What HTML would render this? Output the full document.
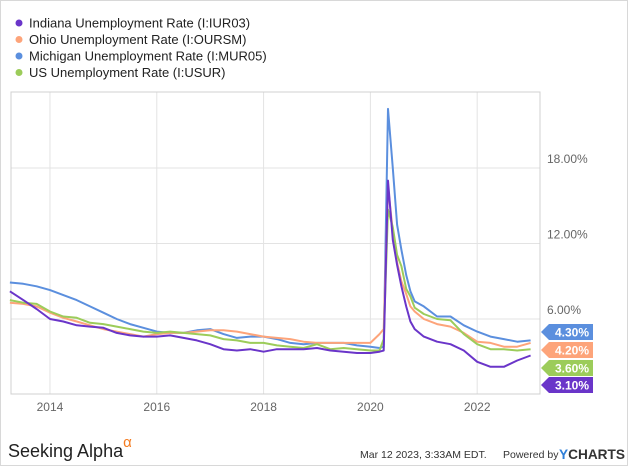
<!DOCTYPE html>
<html><head><meta charset="utf-8"><style>
body{margin:0;background:#fff;font-family:"Liberation Sans",sans-serif}
svg text{font-family:"Liberation Sans",sans-serif}
</style></head><body>
<svg width="635" height="467" viewBox="0 0 635 467">
<rect x="0.5" y="0.5" width="627" height="465" fill="#fff" stroke="#d8d8d8"/>
<g id="legend"></g>
<g id="grid"></g>
<rect x="11" y="92" width="529" height="302" fill="none" stroke="#d0d0d0"/>
<g id="series"></g>
<g id="tags"></g>
<text x="8" y="457" font-size="18" fill="#222">Seeking Alpha<tspan font-size="15" fill="#f47b20" dy="-10">α</tspan></text>
<text x="360" y="458" font-size="10.5" fill="#333">Mar 12 2023, 3:33AM EDT.</text>
<text x="503" y="458" font-size="10.5" fill="#333">Powered by</text>
<text x="559" y="459" font-size="14" font-weight="bold" fill="#333" textLength="66" lengthAdjust="spacingAndGlyphs"><tspan fill="#2f7fd8">Y</tspan>CHARTS</text>
</svg>
<script>
const seriesNames=["Indiana Unemployment Rate (I:IUR03)","Ohio Unemployment Rate (I:OURSM)","Michigan Unemployment Rate (I:MUR05)","US Unemployment Rate (I:USUR)"];
const seriesColors=["#6a35c9","#fda47a","#5b8fde","#9ccc5a"];
const dates=[2013.25,2013.5,2013.75,2014,2014.25,2014.5,2014.75,2015,2015.25,2015.5,2015.75,2016,2016.25,2016.5,2016.75,2017,2017.25,2017.5,2017.75,2018,2018.25,2018.5,2018.75,2019,2019.25,2019.5,2019.75,2020,2020.17,2020.25,2020.33,2020.42,2020.5,2020.58,2020.67,2020.75,2020.83,2021,2021.25,2021.5,2021.75,2022,2022.25,2022.5,2022.75,2023];
const indiana=[8.2,7.5,6.8,6.0,5.8,5.5,5.4,5.3,4.9,4.7,4.6,4.6,4.7,4.5,4.3,4.0,3.6,3.5,3.6,3.4,3.6,3.6,3.6,3.7,3.5,3.4,3.3,3.3,3.4,3.5,17.0,12.3,10.3,8.6,7.0,5.8,5.2,4.6,4.2,4.0,3.5,2.6,2.2,2.2,2.7,3.1];
const ohio=[7.3,7.2,7.0,6.5,6.1,5.8,5.5,5.2,5.0,4.8,4.6,4.8,4.9,4.9,5.0,5.1,5.1,5.0,4.8,4.6,4.5,4.4,4.2,4.1,4.1,4.1,4.1,4.1,4.8,5.2,16.5,13.0,10.5,9.0,8.0,7.0,6.6,6.0,5.6,5.4,4.9,4.2,4.1,3.8,3.8,4.1];
const michigan=[8.9,8.8,8.6,8.3,7.9,7.5,7.0,6.5,6.0,5.6,5.3,5.0,4.9,4.9,5.1,5.2,4.8,4.5,4.6,4.6,4.4,4.1,4.0,4.1,4.1,4.1,3.9,3.8,3.7,3.8,22.7,18.0,13.5,11.5,9.5,8.2,7.4,7.0,6.2,6.2,5.5,5.0,4.6,4.4,4.2,4.3];
const us=[7.5,7.3,7.2,6.6,6.2,6.1,5.7,5.6,5.4,5.2,5.0,4.9,5.0,4.9,4.8,4.7,4.4,4.3,4.1,4.1,3.9,3.8,3.7,4.0,3.6,3.7,3.6,3.5,3.5,4.4,14.7,13.3,11.1,10.2,8.4,7.8,6.9,6.4,6.0,5.9,4.8,4.0,3.6,3.6,3.5,3.6];
const xTicks=[2014,2016,2018,2020,2022];
const yTicks=[6,12,18];
const lastLabels=["3.10%","4.20%","4.30%","3.60%"];
const tagCenters=[385,350,332,368];

const NS="http://www.w3.org/2000/svg";
function X(t){return 11+(t-2013.27)*53.4;}
function Y(v){return 394.5-v*12.58;}
function mk(tag,attrs,parent){const e=document.createElementNS(NS,tag);for(const k in attrs)e.setAttribute(k,attrs[k]);parent.appendChild(e);return e;}
const grid=document.getElementById('grid');
xTicks.forEach(t=>{
  const l=mk('line',{x1:X(t),x2:X(t),y1:92,y2:394,stroke:'#e3e3e3'},grid);
  
  
  const tx=mk('text',{x:X(t),y:411,'text-anchor':'middle','font-size':12,fill:'#666'},grid);
  tx.textContent=t;
  
  
});
yTicks.forEach(v=>{
  const l=mk('line',{x1:11,x2:540,y1:Y(v),y2:Y(v),stroke:'#e3e3e3'},grid);
  
  
  const tx=mk('text',{x:547,y:Y(v)-5,'font-size':12,fill:'#666'},grid);
  tx.textContent=v.toFixed(2)+'%';
  
  
});
const all=[indiana,ohio,michigan,us];
const order=[2,1,3,0];
const sg=document.getElementById('series');
order.forEach(i=>{
  const d=dates.map((t,j)=>(j?'L':'M')+X(t).toFixed(1)+','+Y(all[i][j]).toFixed(1)).join(' ');
  const p=mk('path',{d:d,fill:'none',stroke:seriesColors[i],'stroke-width':2,'stroke-linejoin':'round'},sg);
  
  
});
const lg=document.getElementById('legend');
seriesNames.forEach((n,i)=>{
  const y=23+i*16.5;
  const c=mk('circle',{cx:19,cy:y,r:3.5,fill:seriesColors[i]},lg);
  
  
  const t=mk('text',{x:29,y:y+4.5,'font-size':13,fill:'#222'},lg);
  t.textContent=n;
  
  
});
const tg=document.getElementById('tags');
[2,1,3,0].forEach(i=>{
  const c=tagCenters[i];
  const p=mk('path',{d:`M541,${c} L549,${c-8} L593,${c-8} L593,${c+8} L549,${c+8} Z`,fill:seriesColors[i]},tg);
  
  
  const t=mk('text',{x:572,y:c+4.5,'text-anchor':'middle','font-size':12,'font-weight':'bold',fill:'#fff'},tg);
  t.textContent=lastLabels[i];
  
  
});
</script>
</body></html>
